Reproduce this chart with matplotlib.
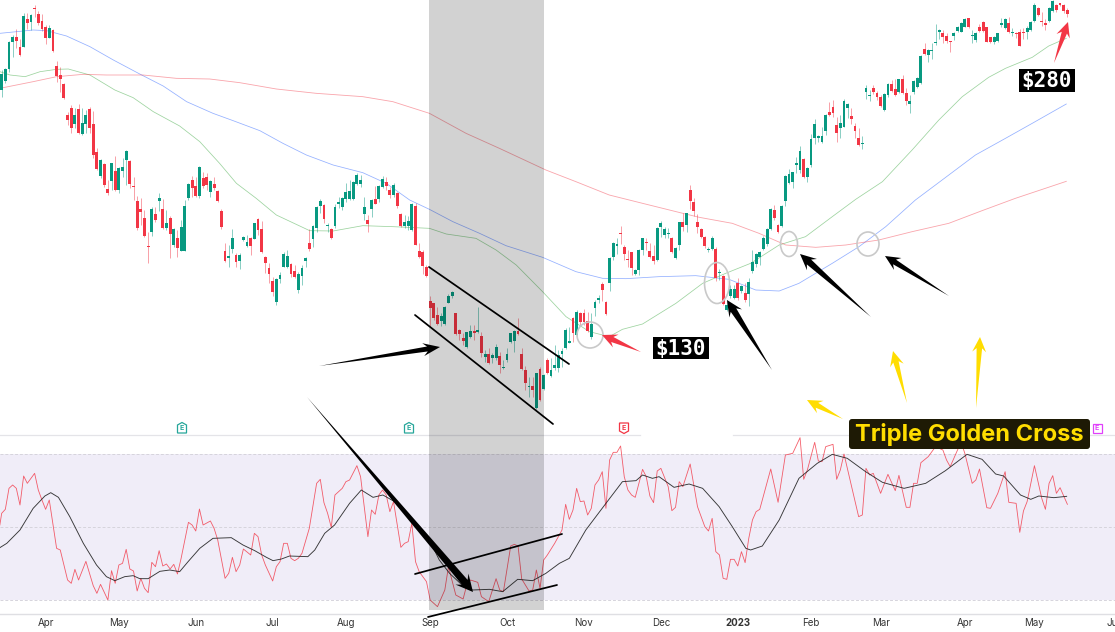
import numpy as np
import matplotlib
matplotlib.use("Agg")
import matplotlib.pyplot as plt
from matplotlib.patches import Polygon, Ellipse, Rectangle, FancyBboxPatch

plt.rcParams['font.family'] = ['Inter', 'DejaVu Sans']

# chart levels, price axis has no scale shown so
# these are in thirds of a pixel from the top (smaller number = higher price)
opens = [
    270,242,207,125,112,142,140,58,65,24,
    42,64,82,114,90,198,225,252,345,325,
    372,328,403,373,328,373,457,527,492,568,
    543,513,570,513,480,483,558,603,627,655,
    738,695,643,603,628,683,653,735,713,752,
    752,595,540,558,587,533,531,575,552,574,
    633,754,775,747,765,782,719,738,714,717,
    658,688,770,805,843,905,836,800,802,793,
    814,870,827,782,730,717,683,617,614,678,
    687,678,611,620,597,597,597,551,553,642,
    660,628,598,597,560,545,570,586,580,642,
    678,678,690,618,753,756,802,
    903,910,945,962,972,908,888,940,990,1014,
    1040,1010,994,995,1007,1072,1063,1075,1075,1068,
    1104,1080,1025,1023,994,1063,1110,1161,1158,1225,
    1107,1167,1080,1128,1104,1105,1063,1045,1028,955,
    1005,940,940,962,1010,923,901,853,906,850,
    772,737,699,741,777,757,822,810,750,727,
    752,768,780,680,705,701,713,775,735,667,
    675,570,607,665,688,710,749,746,746,820,
    828,
    930,888,893,848,872,880,882,813,793,
    770,747,733,687,630,675,677,604,550,545,
    494,510,477,530,495,413,413,427,392,336,
    322,375,383,380,325,348,377,414,431,277,
    287,265,278,292,330,285,252,268,277,238,
    278,313,275,260,250,148,165,153,130,95,
    98,108,124,108,92,95,80,55,107,120,
    82,65,82,112,125,122,76,84,70,98,
    98,96,97,95,90,63,25,62,68,62,
    32,15,9,15,30,
]
closes = [
    222,208,125,112,122,165,48,68,44,26,
    68,88,115,84,152,228,238,295,360,385,
    345,400,368,345,385,465,507,480,555,580,
    490,570,505,502,452,552,560,685,637,707,
    740,627,660,595,683,670,702,687,745,682,
    618,552,563,587,500,558,555,544,565,603,
    682,783,768,715,786,764,712,726,738,670,
    689,757,790,822,877,838,824,762,768,823,
    830,822,803,774,748,678,622,603,657,676,
    713,622,606,595,576,572,546,524,540,622,
    673,600,611,559,537,558,584,555,618,678,
    666,663,613,735,770,798,828,
    925,955,972,947,920,887,876,1003,1002,1022,
    997,994,998,990,1058,1063,1090,1065,1040,1094,
    1100,1062,1000,994,1002,1107,1148,1158,1170,1120,
    1199,1125,1118,1110,1095,1065,1053,990,1024,1000,
    935,965,965,992,972,907,895,870,943,775,
    729,732,703,762,780,803,810,750,715,730,
    772,782,685,668,686,699,756,744,666,680,
    640,602,632,682,712,738,746,715,835,816,
    912,
    915,868,868,895,858,900,847,785,763,
    755,713,687,628,654,697,618,527,522,517,
    488,453,530,505,417,372,408,408,345,344,
    340,398,368,302,312,356,392,435,429,265,
    285,276,290,318,282,252,272,285,238,279,
    303,303,243,235,168,162,151,150,125,90,
    112,123,126,98,82,68,56,82,105,98,
    92,92,125,125,110,100,70,58,96,96,
    100,137,100,85,66,15,45,64,75,25,
    3,30,16,32,42,
]
highs = [
    210,205,122,105,88,118,40,40,42,14,
    32,42,75,75,86,182,200,250,335,315,
    325,312,325,330,320,333,445,478,488,540,
    488,468,500,475,450,480,530,588,595,630,
    695,620,620,580,598,630,648,685,690,660,
    600,548,528,530,498,515,518,540,530,570,
    628,730,735,688,758,760,708,705,712,668,
    655,662,768,790,830,835,815,757,750,790,
    795,815,795,772,688,675,618,598,612,670,
    683,612,590,592,548,540,543,520,525,592,
    645,597,557,555,528,532,560,548,575,638,
    645,648,610,610,728,750,795,
    888,908,920,940,918,882,872,938,988,1000,
    995,975,975,920,995,1050,1045,1058,1032,1056,
    1080,1045,998,990,953,1045,1098,1130,1130,1118,
    1100,1122,1075,1075,1035,1050,1045,985,980,950,
    930,935,928,935,940,900,885,845,903,772,
    725,715,678,735,750,755,808,748,713,715,
    730,735,682,662,680,685,710,740,665,640,
    638,555,595,642,685,708,740,708,742,808,
    825,
    900,855,855,835,855,850,835,750,760,
    752,708,685,625,615,673,615,525,507,515,
    470,437,475,500,403,358,405,380,342,305,
    300,350,345,298,308,325,370,385,408,255,
    270,255,272,285,280,250,240,238,236,225,
    265,285,240,232,165,128,148,130,72,88,
    90,100,122,95,78,66,54,53,90,95,
    72,63,80,110,108,98,55,55,50,85,
    95,88,85,78,64,10,20,35,58,22,
    0,12,8,13,25,
]
lows = [
    290,250,215,170,145,168,142,88,90,50,
    75,92,133,115,155,245,275,297,375,398,
    385,403,405,398,400,475,510,535,560,585,
    570,572,578,530,555,565,600,690,675,710,
    788,707,665,632,688,690,773,742,770,752,
    752,600,590,590,593,565,570,592,570,606,
    688,786,800,760,802,806,722,742,765,718,
    705,760,820,848,888,915,850,802,805,830,
    835,880,855,800,752,740,695,640,668,695,
    717,685,625,630,605,600,600,555,560,660,
    697,650,612,605,563,570,595,590,623,680,
    684,690,692,735,775,822,830,
    978,960,975,978,975,910,895,1005,1020,1035,
    1045,1015,1020,1000,1070,1085,1092,1090,1080,1120,
    1108,1085,1028,1055,1005,1110,1170,1190,1190,1228,
    1202,1170,1122,1132,1110,1115,1100,1048,1030,1025,
    1010,975,975,995,1017,948,910,903,945,872,
    780,762,732,780,800,825,826,825,765,750,
    775,792,782,710,715,715,760,778,750,692,
    695,628,648,700,715,745,755,750,842,840,
    915,
    932,895,898,900,878,905,918,818,800,
    795,750,738,690,660,700,680,618,552,565,
    520,520,533,545,500,432,425,430,405,348,
    350,425,415,382,355,372,415,438,448,298,
    302,282,300,322,332,292,275,288,280,282,
    315,338,282,265,252,165,185,178,135,118,
    128,130,155,120,95,97,82,85,128,125,
    95,95,127,128,133,125,82,88,98,108,
    115,138,118,118,92,66,48,78,90,65,
    36,36,18,38,52,
]

ma50_x = [-0.5,2.3,6.4,10.5,15,18.2,24.1,30.9,35.9,41.4,48.6,54.1,59.5,64.1,69.5,75,84.1,90.5,98.6,106.8,
          116.8,121.4,129.5,135,140.5,147.7,154.1,160.5,165.9,169.5,175,184.1,191.4,197.7,204.5,212.3,
          219.5,226.8,233.2,240.5,248.6,255.9,262.3,269.5,274.1,281.4,285.9,290.7]
ma50_y = [215,225,230,215,208,207,225,270,293,335,378,425,490,550,595,645,692,693,677,680,
          685,702,715,750,795,875,950,995,1010,988,972,910,850,820,790,735,
          710,650,598,545,450,360,290,232,205,172,138,115]
ma100_x = [-0.5,4.1,8.6,12.3,17.7,24.1,30.5,37.7,44.1,50.5,57.7,63.2,70.5,76.8,83.2,90.5,98.6,105,111.4,116.8,
           123.2,130.5,137.7,147.7,156.8,164.1,170.5,179.5,189.5,198.6,205.9,212.3,217.7,226.8,234.1,241.4,
           249.5,256.8,265.9,274.1,281.4,290.7]
ma100_y = [100,95,90,92,108,140,180,222,258,305,340,362,392,430,465,495,518,550,600,628,
           665,700,737,772,815,835,836,830,827,838,870,873,850,790,740,680,
           600,540,465,415,370,312]
ma200_x = [-0.5,8.6,15,22.3,28.6,38.6,47.7,56.8,65,75,85.9,98.6,106.8,116.8,126.8,135.9,148.6,156.8,165.9,175,
           186,190.5,199.5,206.8,214.1,222.3,230.5,239.5,248.6,258.6,267.7,276.8,290.7]
ma200_y = [265,245,230,223,225,225,235,237,248,267,280,290,305,340,400,445,510,545,585,610,
           640,652,670,700,735,742,735,720,695,670,632,595,544]

rsi_x = [-0.5,0,1,2,3,4,5,6,7,9,10,11,12,13,15,16,18,19,20,21,23,25,26,27,29,30,31,32,33,34,35,36,37,38,39,40,
         41,42,43,44,45,46,47,48,49,51,52,53,54,55,57,58,59,61,62,63,64,65,66,68,69,70,71,72,74,75,76,77,78,79,
         80,81,82,84,86,87,88,89,90,91,93,94,95,97,98,100,101,102,103,104,105,106,107,109,110,111,112,113,114,
         116,117,119,121,122,124,126,127,128,130,131,133,135,136,137,139,140,141,142,144,145,146,147,148,149,151,
         153,154,155,156,157,158,159,160,161,162,163,164,165,166,167,168,169,170,171,172,173,175,176,177,178,179,
         180,182,183,184,185,186,188,190,192,193,194,195,196,197,198,199,200,201,202,203,204,205,206,207,210,212,
         214,216,218,219,220,222,223,224,225,227,228,229,230,234,235,236,237,238,240,242,244,245,247,248,249,250,
         251,253,255,257,258,259,261,262,263,265,266,267,269,270,272,274,275,277,278,279,280,282,284,285,286,287,
         288,289,291]
rsi_y = [1575,1540,1528,1465,1455,1465,1515,1428,1450,1420,1470,1500,1528,1500,1645,1650,1740,1750,1708,1740,1684,1757,1780,1753,1800,1712,1750,1695,1690,1648,1707,1713,1773,1735,1765,1778,
         1687,1700,1652,1698,1692,1707,1693,1722,1675,1567,1575,1593,1527,1575,1563,1585,1620,1735,1720,1672,1715,1695,1647,1665,1600,1610,1665,1695,1743,1700,1685,1630,1630,1675,
         1682,1675,1660,1585,1450,1438,1508,1540,1582,1485,1465,1445,1440,1397,1430,1610,1530,1543,1485,1470,1485,1535,1505,1642,1630,1625,1570,1685,1715,
         1745,1800,1820,1770,1700,1785,1797,1755,1740,1747,1790,1805,1736,1770,1775,1638,1633,1638,1737,1773,1770,1710,1765,1680,1665,1630,
         1590,1513,1558,1530,1465,1505,1503,1545,1525,1455,1440,1415,1525,1380,1357,1357,1338,1430,1470,1485,1492,1408,1430,1488,1508,1413,
         1405,1460,1532,1522,1445,1460,1392,1520,1580,1593,1555,1655,1665,1735,1738,1678,1678,1698,1655,1688,1615,1560,1535,1528,1407,1507,
         1365,1360,1313,1438,1410,1327,1383,1385,1340,1333,1438,1410,1362,1550,1545,1405,1425,1420,1480,1423,1472,1426,1522,1522,1450,1450,
         1388,1370,1340,1350,1380,1400,1350,1328,1360,1450,1440,1407,1523,1525,1480,1415,1507,1510,1597,1533,1505,1397,1495,1528,1450,1427,
         1480,1463,1513]
rsi_ma_x = [-0.5,1.4,5,8.6,11.8,13.4,15.5,18.6,22.3,25.9,28.6,30.9,33.6,35.9,37.7,40,43.2,45.9,48.6,50.9,54.1,57.7,62.7,65.9,69.1,72.3,74.1,76.4,78.6,83.6,85.5,88.2,90.9,95,98.2,101.4,104.1,107.3,
            114.1,116.8,119.5,122.3,125.9,128.6,133.2,136.8,140.9,145,148.6,152.3,155,159.5,165,169.5,173.2,175,177.7,179.5,183.6,187.7,191.4,195.9,199.5,
            203.2,204.5,207.7,212.3,217.7,222.7,226.8,230.9,235.9,240.5,246.4,252.3,257.7,263.6,267.7,271.4,273.6,278.2,281,283.2,287.3,290.8]
rsi_ma_y = [1643,1630,1590,1525,1488,1478,1492,1550,1630,1695,1730,1742,1730,1727,1736,1736,1714,1710,1715,1685,1645,1615,1613,1635,1652,1672,1682,1677,1668,1670,1650,1600,1575,1510,1470,1492,1485,1505,
            1580,1620,1680,1720,1757,1770,1768,1775,1738,1742,1720,1690,1675,1590,1510,1445,1442,1425,1435,1430,1462,1452,1465,1520,1580,
            1645,1650,1638,1560,1435,1390,1363,1375,1415,1447,1465,1450,1412,1363,1378,1422,1428,1485,1498,1488,1493,1489]

tick_bars = [12, 32, 53, 74, 94, 117, 138, 159, 180, 201, 221, 240, 263, 282, 304]
tick_names = ['Apr', 'May', 'Jun', 'Jul', 'Aug', 'Sep', 'Oct', 'Nov', 'Dec', '2023', 'Feb', 'Mar', 'Apr', 'May', 'Jun']

GREEN = '#089981'
RED = '#F23645'
W, H = 1115, 632

fig = plt.figure(figsize=(W / 100, H / 100), dpi=100)
ax = fig.add_axes([0, (H - 614) / H, 1, 614 / H])
ax.set_xlim(-0.455, 303.6)
ax.set_ylim(1842, 0)
for s in ['top', 'left', 'right']:
    ax.spines[s].set_visible(False)
ax.spines['bottom'].set_color('#dfdfe3')
ax.spines['bottom'].set_linewidth(1.0)
ax.set_yticks([])
ax.set_xticks(tick_bars)
ax.set_xticklabels(tick_names, fontsize=7, color='#333333')
ax.tick_params(axis='x', length=0, pad=3.2)
ax.get_xticklabels()[9].set_fontweight('bold')

# rsi pane background + levels
ax.axhspan(1362, 1800, color='#F0EDF8', lw=0, zorder=0)
for lvl in [1362, 1581, 1800]:
    ax.axhline(lvl, color='#d6d4dc', lw=0.7, ls=(0, (3, 2)), zorder=0.5)

# candles
opens = np.array(opens)
closes = np.array(closes)
highs = np.array(highs)
lows = np.array(lows)
bars = np.arange(len(opens))
cols = [GREEN if c < o else RED for o, c in zip(opens, closes)]
ax.vlines(bars, highs, lows, colors=cols, lw=0.55, alpha=0.6, zorder=2)
ax.bar(bars, np.maximum(np.abs(closes - opens), 3), bottom=np.minimum(opens, closes), width=0.78, color=cols, lw=0, zorder=3)

# moving averages
ax.plot(ma50_x, ma50_y, color='#4CAF50', lw=0.55, alpha=0.55, zorder=2.5)
ax.plot(ma100_x, ma100_y, color='#2962FF', lw=0.55, alpha=0.5, zorder=2.5)
ax.plot(ma200_x, ma200_y, color='#F23645', lw=0.6, alpha=0.45, zorder=2.5)

# rsi
ax.plot(rsi_x, rsi_y, color='#F23645', lw=0.6, alpha=0.8, zorder=2.5)
ax.plot(rsi_ma_x, rsi_ma_y, color='#222222', lw=0.65, alpha=0.9, zorder=2.6)

# annotations drawn on a pixel overlay
ov = fig.add_axes([0, 0, 1, 1], facecolor='none')
ov.set_xlim(0, W)
ov.set_ylim(H, 0)
ov.axis('off')


def arrow(x0, y0, x1, y1, color, head_w=12, head_l=14, neck_w=4):
    # tapered arrow: sharp tail, widening to the head
    p0 = np.array([x0, y0], float)
    p1 = np.array([x1, y1], float)
    d = (p1 - p0) / np.hypot(*(p1 - p0))
    n = np.array([-d[1], d[0]])
    base = p1 - d * head_l
    neck = p1 - d * head_l * 0.75
    pts = [p0, neck + n * neck_w / 2, base + n * head_w / 2, p1, base - n * head_w / 2, neck - n * neck_w / 2]
    ov.add_patch(Polygon(pts, closed=True, fc=color, ec='none', zorder=6))


ov.add_patch(Rectangle((429, 0), 115, 610, fc='black', alpha=0.175, ec='none', zorder=1))

# separator above the rsi pane, broken where the image was patched
for x0, x1 in [(0, 640), (733, 1115)]:
    ov.plot([x0, x1], [435.3, 435.3], color='#e4e4e8', lw=0.9, zorder=0.5)

# channels
for x0, y0, x1, y1 in [(429, 267, 569, 364), (415, 315, 553, 424), (415, 574, 562, 534), (428, 617, 557, 585)]:
    ov.plot([x0, x1], [y0, y1], color='black', lw=1.25, solid_capstyle='round', zorder=5)

# circles
for cx, cy, w, h in [(590, 335, 26, 26), (717, 283, 25, 41), (789, 244, 17, 25), (868, 244, 22, 24)]:
    ov.add_patch(Ellipse((cx, cy), w, h, fc='none', ec='#c9c9c9', lw=1.2, zorder=5))

# arrows
arrow(319, 366, 440, 347, 'black', head_w=13, head_l=17, neck_w=5)
arrow(307, 397, 473, 592, 'black', head_w=17, head_l=17, neck_w=7.5)
arrow(772, 370, 727, 300, 'black', head_w=15, head_l=16, neck_w=6.5)
arrow(871, 317, 800, 254, 'black', head_w=15, head_l=16, neck_w=6.5)
arrow(949, 296, 885, 256, 'black', head_w=14, head_l=15, neck_w=5.5)
arrow(641, 352, 602, 335, '#F23645', head_w=14, head_l=15, neck_w=5.5)
arrow(1054, 63, 1068, 22, '#F23645', head_w=14, head_l=15, neck_w=5.5)
arrow(843, 419, 807, 400, '#FFDD00', head_w=14, head_l=15, neck_w=5.5)
arrow(907, 403, 893, 351, '#FFDD00', head_w=14, head_l=15, neck_w=5.5)
arrow(976, 408, 980, 337, '#FFDD00', head_w=14, head_l=15, neck_w=5.5)

# price tags
for x0, y0, x1, y1, txt in [(653, 337, 709, 359, '$130'), (1019, 69, 1075, 92, '$280')]:
    ov.add_patch(Rectangle((x0, y0), x1 - x0, y1 - y0, fc='black', ec='none', zorder=7))
    ov.text((x0 + x1) / 2, (y0 + y1) / 2 + 0.5, txt, color='white', fontsize=15, fontweight='bold',
            family='DejaVu Sans Mono', ha='center', va='center', zorder=8)

ov.add_patch(FancyBboxPatch((851, 421), 237, 26, boxstyle='round,pad=2,rounding_size=3', fc='#1E1A05', ec='none', zorder=7))
ov.text(969.5, 434.5, 'Triple Golden Cross', color='#FFDD00', fontsize=17, fontweight='bold', ha='center', va='center', zorder=8)

# earnings badges
for cx, col, kind in [(182, '#26A69A', 'up'), (409, '#26A69A', 'up'), (624, '#F23645', 'down'), (1097, '#E040FB', 'box')]:
    cy = 428
    if kind == 'up':
        pts = [(cx - 4.5, cy + 5), (cx - 4.5, cy - 3), (cx, cy - 5.5), (cx + 4.5, cy - 3), (cx + 4.5, cy + 5)]
    elif kind == 'down':
        pts = [(cx - 4.5, cy - 5), (cx + 4.5, cy - 5), (cx + 4.5, cy + 3), (cx, cy + 5.5), (cx - 4.5, cy + 3)]
    else:
        pts = [(cx - 4.5, cy - 4.5), (cx + 4.5, cy - 4.5), (cx + 4.5, cy + 4.5), (cx - 4.5, cy + 4.5)]
    ov.add_patch(Polygon(pts, closed=True, fc='white', ec=col, lw=0.9, zorder=6))
    ov.text(cx, cy, 'E', color=col, fontsize=5, fontweight='bold', ha='center', va='center', zorder=7)

fig.savefig('out.png', dpi=100)
